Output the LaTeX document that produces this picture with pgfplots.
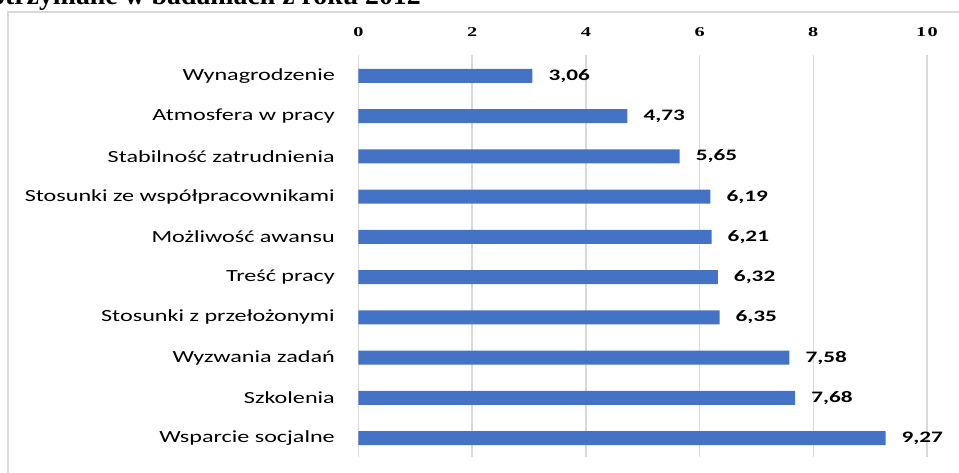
\documentclass[border=0pt]{standalone}
\usepackage{pgfplots}
\pgfplotsset{compat=1.18}
\usepackage{fontspec}
\setmainfont{Carlito}
\newfontfamily\titlefont{Liberation Serif}
\newfontfamily\catfont[FakeStretch=1.42]{Carlito}
\newfontfamily\valfont[FakeStretch=1.45]{Carlito}
\newfontfamily\tickfont[FakeStretch=1.5, LetterSpace=10]{Liberation Serif Bold}
\definecolor{barblue}{HTML}{4472C4}
\definecolor{gridgrey}{HTML}{D9D9D9}

\begin{document}
\begin{tikzpicture}[x=1pt,y=1pt]
\path[use as bounding box] (0,0) rectangle (959,-472);
\begin{scope}
\clip (0,0) rectangle (959,-472);
% frame of the chart area
\draw[gridgrey, line width=2pt] (8,-12) rectangle (975,-490);
% heading line above the chart
\node[anchor=base east, inner sep=0pt,
      font=\fontsize{27.8}{32}\selectfont\titlefont\bfseries]
  at (421,-4) {otrzymane w badaniach z roku 2012};
\begin{axis}[
  at={(358.5pt,-55pt)}, anchor=north west,
  scale only axis, width=568.5pt, height=402pt,
  xmin=0, xmax=10, ymin=-0.52, ymax=9.47, y dir=reverse,
  xbar, bar width=14pt,
  axis x line*=top, axis y line*=left,
  axis line style={draw=none},
  major tick length=0pt,
  xmajorgrids, grid style={gridgrey, line width=1.5pt},
  xtick={0,2,...,10},
  xticklabels={0,2,4,6,8,10},
  xticklabel style={font=\fontsize{13.5}{15}\selectfont\tickfont,
    inner sep=0pt, anchor=south, yshift=18pt},
  ytick={0,...,9},
  yticklabels={Wynagrodzenie, Atmosfera w pracy, Stabilność zatrudnienia,
    Stosunki ze współpracownikami, Możliwość awansu, Treść pracy,
    Stosunki z przełożonymi, Wyzwania zadań, Szkolenia, Wsparcie socjalne},
  yticklabel style={font=\fontsize{17}{19}\selectfont\catfont\mdseries,
    inner sep=0pt, anchor=east, xshift=-23.5pt},
  point meta=x,
  nodes near coords={\pgfmathprintnumber[assume math mode=true, fixed,
    fixed zerofill, precision=2, use comma]{\pgfplotspointmeta}},
  nodes near coords style={font=\fontsize{16}{18}\selectfont\valfont\bfseries,
    anchor=west, inner sep=0pt, xshift=16pt, black},
]
\addplot[fill=barblue, draw=none] coordinates {
  (3.06,0) (4.73,1) (5.65,2) (6.19,3) (6.21,4)
  (6.32,5) (6.35,6) (7.58,7) (7.68,8) (9.27,9)
};
\end{axis}
\end{scope}
\end{tikzpicture}
\end{document}
